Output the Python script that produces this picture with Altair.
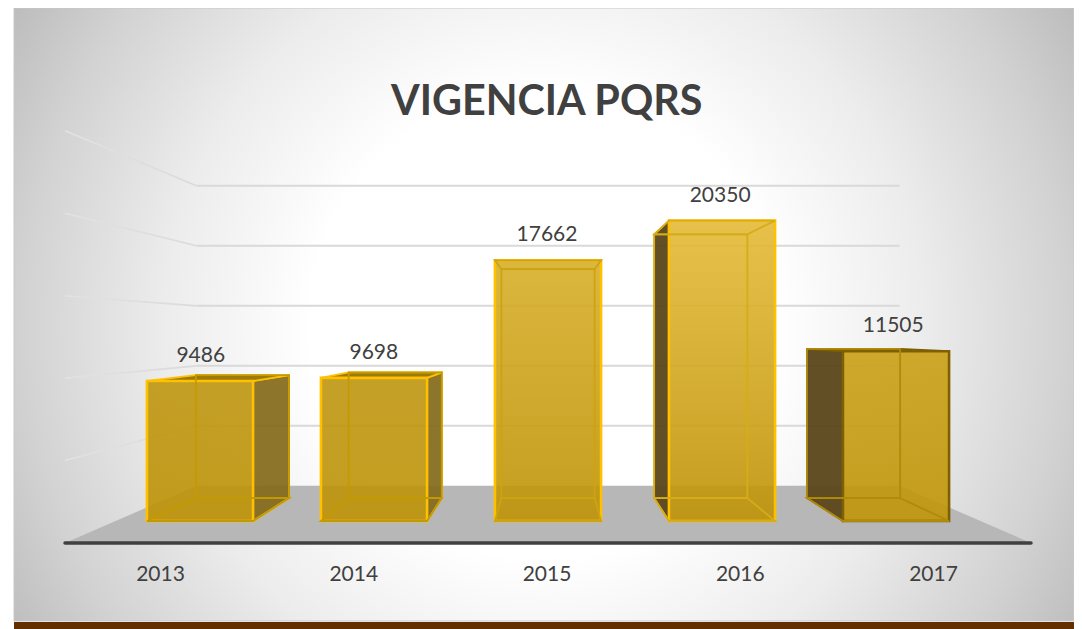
import altair as alt
import pandas as pd

years = ["2013", "2014", "2015", "2016", "2017"]
values = [9486, 9698, 17662, 20350, 11505]
grid_values = [0, 5000, 10000, 15000, 20000, 25000]

edge_colors = ["#ffc000", "#ffc000", "#ffc000", "#ffc000", "#7f6000"]
inner_colors = ["#c49a00", "#c49a00", "#cda410", "#d6ac18", "#b08a08"]
front_top = ["#bf9610", "#bf9610", "#d8af29", "#e5ba38", "#caa016"]
front_bottom = ["#be9306", "#be9306", "#be9306", "#be9306", "#c09508"]
FONT = "Lato"
TEXT = "#404040"

# perspective model of the 3-D chart
HALF = 0.305
U_C, V_C = 2.0, 12737.0
K_BACK, K_WALL, K_FLOOR = 0.878, 0.813, 1.117
K_LABEL, K_VALUE = 1.1106, 0.995
U_MIN, U_MAX = -0.485, 4.485


def px(u, k=1.0):
    return U_C + k * (u - U_C)


def py(v, k=1.0):
    return V_C + k * (v - V_C)


W, H = 1066, 621
sx = alt.Scale(domain=[-192 / 174, (W - 192) / 174], range=[0, W], nice=False, zero=False)
sy = alt.Scale(domain=[(513 - H) / 0.01476, 513 / 0.01476], range=[H, 0], nice=False, zero=False)
X = alt.X("x:Q", scale=sx, axis=None)
Y = alt.Y("y:Q", scale=sy, axis=None)
BLANK = alt.Chart(pd.DataFrame({"a": [0]}))


def quad_v(x1, x2, t1, t2, b1, b2, **mk):
    d = pd.DataFrame({"x": [x1, x2], "y": [t1, t2], "y2": [b1, b2]})
    return alt.Chart(d).mark_area(orient="vertical", **mk).encode(x=X, y=Y, y2="y2:Q")


def quad_h(y1, y2, l1, l2, r1, r2, **mk):
    d = pd.DataFrame({"y": [y1, y2], "x": [l1, l2], "x2": [r1, r2]})
    return alt.Chart(d).mark_area(orient="horizontal", **mk).encode(y=Y, x=X, x2="x2:Q")


def box(x1, x2, y1, y2, **mk):
    d = pd.DataFrame({"x": [x1], "x2": [x2], "y": [y1], "y2": [y2]})
    return alt.Chart(d).mark_rect(**mk).encode(x=X, x2="x2:Q", y=Y, y2="y2:Q")


layers = []

# background and frame
bg = alt.RadialGradient(
    gradient="radial", x1=0.5, y1=0.51, r1=0, x2=0.5, y2=0.51, r2=0.58,
    stops=[
        alt.GradientStop(offset=0, color="#ffffff"),
        alt.GradientStop(offset=0.38, color="#ffffff"),
        alt.GradientStop(offset=0.62, color="#ececec"),
        alt.GradientStop(offset=0.85, color="#d2d2d2"),
        alt.GradientStop(offset=1, color="#bdbdbd"),
    ],
)
layers.append(BLANK.mark_rect(fill=bg, stroke="#c8c8c8", strokeWidth=1).encode(
    x=alt.value(6), x2=alt.value(W), y=alt.value(0), y2=alt.value(613)))
layers.append(BLANK.mark_rect(fill="#632e00").encode(
    x=alt.value(6), x2=alt.value(W), y=alt.value(614), y2=alt.value(621)))

# walls: gridlines
fade = alt.LinearGradient(
    gradient="linear", x1=0, y1=0, x2=1, y2=0,
    stops=[alt.GradientStop(offset=0, color="#e2e2e2"), alt.GradientStop(offset=1, color="#dadada")],
)
for g in grid_values[1:]:
    d = pd.DataFrame({"x": [px(U_MIN, K_FLOOR), px(U_MIN, K_WALL)], "y": [py(g, K_FLOOR), py(g, K_WALL)]})
    layers.append(alt.Chart(d).mark_line(stroke=fade, strokeWidth=1.6).encode(x=X, y=Y))
    d = pd.DataFrame({"x": [px(U_MIN, K_WALL), px(U_MAX, K_WALL)], "y": [py(g, K_WALL)] * 2})
    layers.append(alt.Chart(d).mark_line(color="#d9d9d9", strokeWidth=2).encode(x=X, y=Y))

# floor
layers.append(quad_h(py(0, K_FLOOR), py(0, K_WALL), px(U_MIN, K_FLOOR), px(U_MIN, K_WALL),
                     px(U_MAX, K_FLOOR), px(U_MAX, K_WALL), color="#b7b7b7"))
d = pd.DataFrame({"x": [px(U_MIN, K_FLOOR), px(U_MAX, K_FLOOR)], "y": [py(0, K_FLOOR)] * 2})
layers.append(alt.Chart(d).mark_line(color="#404040", strokeWidth=3.5, strokeCap="round").encode(x=X, y=Y))

# boxes
for i, v in enumerate(values):
    edge, inner = edge_colors[i], inner_colors[i]
    l, r = i - HALF, i + HALF
    bl, br = px(l, K_BACK), px(r, K_BACK)
    bb, bt = py(0, K_BACK), py(v, K_BACK)
    if bl < l:  # visible left side
        layers.append(quad_v(bl, l, bt, v, bb, 0, color="#5a461a", fillOpacity=0.95, stroke=edge, strokeWidth=1.6))
    if br > r:  # visible right side
        layers.append(quad_v(r, br, v, bt, 0, bb, color="#84691a", fillOpacity=0.92, stroke=edge, strokeWidth=1.8))
    if bt > v:  # top seen from above
        layers.append(quad_h(v, bt, l, bl, r, br, color="#9c7a0c", stroke=edge, strokeWidth=1.8))
    grad = alt.LinearGradient(
        gradient="linear", x1=0, y1=0, x2=0, y2=1,
        stops=[alt.GradientStop(offset=0, color=front_top[i]), alt.GradientStop(offset=1, color=front_bottom[i])],
    )
    layers.append(box(l, r, 0, v, fill=grad, fillOpacity=0.9, stroke=edge, strokeWidth=2.6))
    # inner lines show through the translucent front
    thin = dict(fillOpacity=0, stroke=inner, strokeWidth=1.8)
    layers.append(box(bl, br, bb, bt, **thin))
    layers.append(quad_h(0, bb, l, bl, r, br, **thin))
    if bt <= v:
        layers.append(quad_h(v, bt, l, bl, r, br, **thin))

# value labels and category labels
labels = pd.DataFrame({"x": [px(i, K_VALUE) for i in range(5)], "y": values, "t": [str(v) for v in values]})
layers.append(alt.Chart(labels).mark_text(font=FONT, fontSize=21, color=TEXT, dx=-1, dy=-25).encode(x=X, y=Y, text="t:N"))
cats = pd.DataFrame({"x": [px(i, K_LABEL) for i in range(5)], "y": [py(0, K_FLOOR)] * 5, "t": years})
layers.append(alt.Chart(cats).mark_text(font=FONT, fontSize=21, color=TEXT, dx=-1, dy=32).encode(x=X, y=Y, text="t:N"))

chart = alt.layer(*layers).properties(
    width=W, height=H, padding=0, autosize=alt.AutoSizeParams(type="none"),
    title=alt.TitleParams("VIGENCIA PQRS", font=FONT, fontSize=41.3, fontWeight="bold", color=TEXT,
                          anchor="start", frame="group", dx=383, dy=116, offset=0),
).configure_view(stroke=None)

chart.save("out.html", embed_options={"renderer": "svg", "actions": False})
